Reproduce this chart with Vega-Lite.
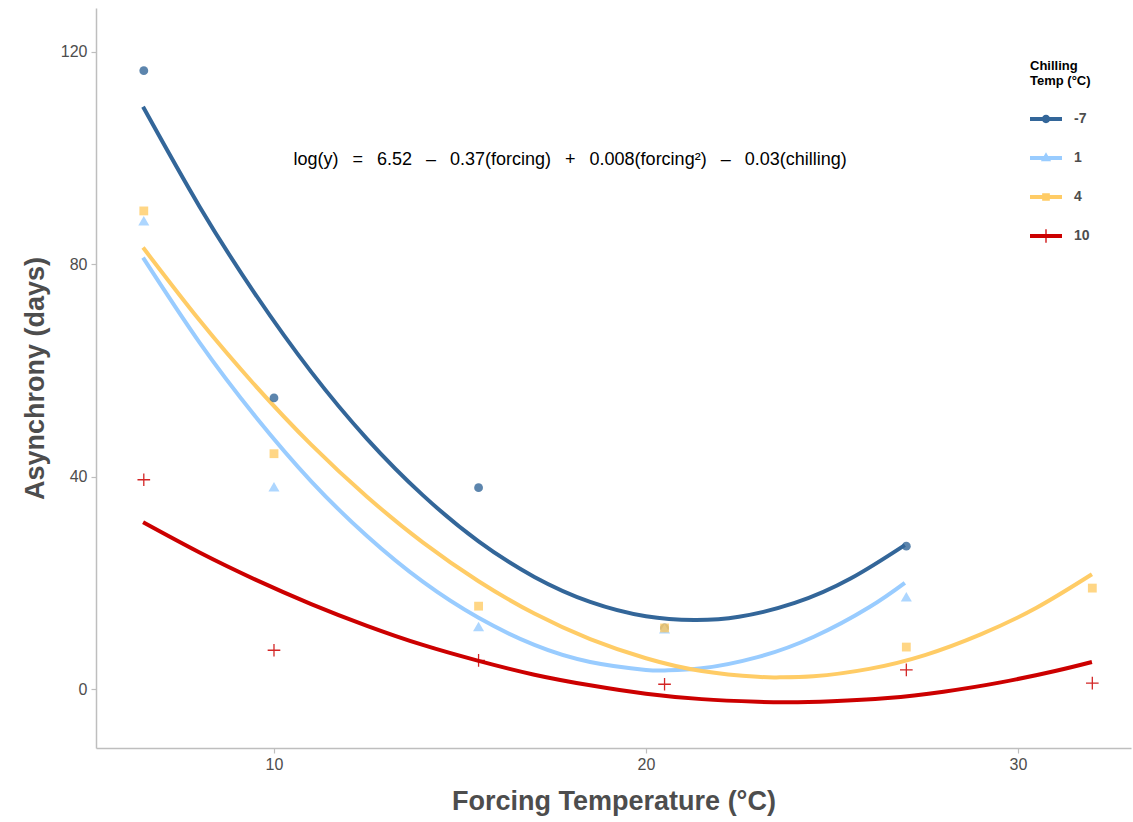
{
  "$schema": "https://vega.github.io/schema/vega-lite/v6.json",
  "width": 1035,
  "height": 740,
  "autosize": {"type": "none"},
  "padding": {"left": 96, "top": 8, "right": 2, "bottom": 74},
  "background": "white",
  "config": {
    "view": {"stroke": null},
    "font": "Liberation Sans",
    "axis": {
      "grid": false,
      "domainColor": "#bebebe",
      "domainWidth": 1.5,
      "tickColor": "#bebebe",
      "tickWidth": 1.2,
      "tickSize": 5,
      "labelColor": "#4d4d4d",
      "labelFont": "Liberation Sans",
      "labelFontSize": 16,
      "titleFont": "Liberation Sans",
      "titleFontSize": 27,
      "titleFontWeight": "bold",
      "titleColor": "#4d4d4d"
    }
  },
  "datasets": {
    "obs": [
      {"chill": "-7", "forcing": 6.5, "asynchrony": 116.4},
      {"chill": "-7", "forcing": 10, "asynchrony": 54.8},
      {"chill": "-7", "forcing": 15.5, "asynchrony": 37.9},
      {"chill": "-7", "forcing": 20.5, "asynchrony": 11.5},
      {"chill": "-7", "forcing": 27, "asynchrony": 26.9},
      {"chill": "1", "forcing": 6.5, "asynchrony": 88.1},
      {"chill": "1", "forcing": 10, "asynchrony": 38.0},
      {"chill": "1", "forcing": 15.5, "asynchrony": 11.7},
      {"chill": "1", "forcing": 20.5, "asynchrony": 11.3},
      {"chill": "1", "forcing": 27, "asynchrony": 17.3},
      {"chill": "4", "forcing": 6.5, "asynchrony": 90.0},
      {"chill": "4", "forcing": 10, "asynchrony": 44.3},
      {"chill": "4", "forcing": 15.5, "asynchrony": 15.6},
      {"chill": "4", "forcing": 20.5, "asynchrony": 11.5},
      {"chill": "4", "forcing": 27, "asynchrony": 7.9},
      {"chill": "4", "forcing": 32, "asynchrony": 19.0},
      {"chill": "10", "forcing": 6.5, "asynchrony": 39.4},
      {"chill": "10", "forcing": 10, "asynchrony": 7.3},
      {"chill": "10", "forcing": 15.5, "asynchrony": 5.4},
      {"chill": "10", "forcing": 20.5, "asynchrony": 0.9},
      {"chill": "10", "forcing": 27, "asynchrony": 3.6},
      {"chill": "10", "forcing": 32, "asynchrony": 1.1}
    ],
    "fits": [
      {"chill": "-7", "forcing": 6.48, "asynchrony": 109.6},
      {"chill": "-7", "forcing": 8, "asynchrony": 90.8},
      {"chill": "-7", "forcing": 9.5, "asynchrony": 74.3},
      {"chill": "-7", "forcing": 11, "asynchrony": 59.7},
      {"chill": "-7", "forcing": 12.5, "asynchrony": 47.1},
      {"chill": "-7", "forcing": 14, "asynchrony": 36.5},
      {"chill": "-7", "forcing": 15.5, "asynchrony": 27.8},
      {"chill": "-7", "forcing": 17, "asynchrony": 21.1},
      {"chill": "-7", "forcing": 18.5, "asynchrony": 16.4},
      {"chill": "-7", "forcing": 20, "asynchrony": 13.7},
      {"chill": "-7", "forcing": 21.3, "asynchrony": 13.0},
      {"chill": "-7", "forcing": 22.5, "asynchrony": 13.6},
      {"chill": "-7", "forcing": 24, "asynchrony": 16.2},
      {"chill": "-7", "forcing": 25.5, "asynchrony": 20.8},
      {"chill": "-7", "forcing": 26.96, "asynchrony": 27.1},
      {"chill": "1", "forcing": 6.48, "asynchrony": 81.2},
      {"chill": "1", "forcing": 8, "asynchrony": 65.2},
      {"chill": "1", "forcing": 9.5, "asynchrony": 51.3},
      {"chill": "1", "forcing": 11, "asynchrony": 39.1},
      {"chill": "1", "forcing": 12.5, "asynchrony": 28.8},
      {"chill": "1", "forcing": 14, "asynchrony": 20.2},
      {"chill": "1", "forcing": 15.5, "asynchrony": 13.4},
      {"chill": "1", "forcing": 17, "asynchrony": 8.3},
      {"chill": "1", "forcing": 18.5, "asynchrony": 5.1},
      {"chill": "1", "forcing": 20, "asynchrony": 3.6},
      {"chill": "1", "forcing": 20.5, "asynchrony": 3.5},
      {"chill": "1", "forcing": 21.5, "asynchrony": 3.9},
      {"chill": "1", "forcing": 23, "asynchrony": 6.0},
      {"chill": "1", "forcing": 24.5, "asynchrony": 9.8},
      {"chill": "1", "forcing": 26, "asynchrony": 15.4},
      {"chill": "1", "forcing": 26.96, "asynchrony": 20.0},
      {"chill": "4", "forcing": 6.48, "asynchrony": 83.1},
      {"chill": "4", "forcing": 8, "asynchrony": 69.4},
      {"chill": "4", "forcing": 9.5, "asynchrony": 57.1},
      {"chill": "4", "forcing": 11, "asynchrony": 46.0},
      {"chill": "4", "forcing": 12.5, "asynchrony": 36.2},
      {"chill": "4", "forcing": 14, "asynchrony": 27.6},
      {"chill": "4", "forcing": 15.5, "asynchrony": 20.3},
      {"chill": "4", "forcing": 17, "asynchrony": 14.2},
      {"chill": "4", "forcing": 18.5, "asynchrony": 9.4},
      {"chill": "4", "forcing": 20, "asynchrony": 5.8},
      {"chill": "4", "forcing": 21.5, "asynchrony": 3.4},
      {"chill": "4", "forcing": 23, "asynchrony": 2.3},
      {"chill": "4", "forcing": 23.6, "asynchrony": 2.2},
      {"chill": "4", "forcing": 24.5, "asynchrony": 2.4},
      {"chill": "4", "forcing": 26, "asynchrony": 3.8},
      {"chill": "4", "forcing": 27.5, "asynchrony": 6.4},
      {"chill": "4", "forcing": 29, "asynchrony": 10.3},
      {"chill": "4", "forcing": 30.5, "asynchrony": 15.3},
      {"chill": "4", "forcing": 31.99, "asynchrony": 21.6},
      {"chill": "10", "forcing": 6.48, "asynchrony": 31.4},
      {"chill": "10", "forcing": 8, "asynchrony": 25.7},
      {"chill": "10", "forcing": 9.5, "asynchrony": 20.6},
      {"chill": "10", "forcing": 11, "asynchrony": 16.0},
      {"chill": "10", "forcing": 12.5, "asynchrony": 11.9},
      {"chill": "10", "forcing": 14, "asynchrony": 8.3},
      {"chill": "10", "forcing": 15.5, "asynchrony": 5.3},
      {"chill": "10", "forcing": 17, "asynchrony": 2.7},
      {"chill": "10", "forcing": 18.5, "asynchrony": 0.7},
      {"chill": "10", "forcing": 20, "asynchrony": -0.9},
      {"chill": "10", "forcing": 21.5, "asynchrony": -1.9},
      {"chill": "10", "forcing": 23, "asynchrony": -2.4},
      {"chill": "10", "forcing": 23.8, "asynchrony": -2.5},
      {"chill": "10", "forcing": 25, "asynchrony": -2.3},
      {"chill": "10", "forcing": 26.5, "asynchrony": -1.7},
      {"chill": "10", "forcing": 28, "asynchrony": -0.5},
      {"chill": "10", "forcing": 29.5, "asynchrony": 1.2},
      {"chill": "10", "forcing": 31, "asynchrony": 3.4},
      {"chill": "10", "forcing": 31.99, "asynchrony": 5.1}
    ],
    "equation": [
      {"label": "log(y) \u2002= \u20026.52 \u2002– \u20020.37(forcing) \u2002+ \u20020.008(forcing²) \u2002– \u20020.03(chilling)"}
    ]
  },
  "layer": [
    {
      "data": {"name": "fits"},
      "mark": {"type": "line", "strokeWidth": 4, "interpolate": "natural", "strokeCap": "butt"},
      "encoding": {
        "x": {
          "field": "forcing",
          "type": "quantitative",
          "scale": {"domain": [5.215, 33.04], "nice": false, "zero": false},
          "axis": {"values": [10, 20, 30], "title": "Forcing Temperature (°C)", "titlePadding": 16, "labelPadding": 3}
        },
        "y": {
          "field": "asynchrony",
          "type": "quantitative",
          "scale": {"domain": [-11.1, 128.2], "nice": false, "zero": false},
          "axis": {"values": [0, 40, 80, 120], "title": "Asynchrony (days)", "titlePadding": 11, "labelPadding": 4}
        },
        "color": {
          "field": "chill",
          "type": "nominal",
          "scale": {"domain": ["-7", "1", "4", "10"], "range": ["#336699", "#99ccff", "#ffcc66", "#cc0000"]},
          "legend": {
            "title": ["Chilling", "Temp (°C)"],
            "orient": "none",
            "legendX": 934,
            "legendY": 52,
            "titleFont": "Liberation Sans",
            "titleFontSize": 13,
            "titleFontWeight": "bold",
            "titleColor": "#000000",
            "titlePadding": 15,
            "labelFont": "Liberation Sans",
            "labelFontSize": 14,
            "labelFontWeight": "bold",
            "labelColor": "#4d4d4d",
            "labelOffset": 12,
            "symbolSize": 1024,
            "symbolStrokeWidth": 0,
            "rowPadding": 16,
            "encode": {
              "symbols": {
                "update": {
                  "shape": {"signal": "datum.value === '-7' ? 'M-1,-0.125L1,-0.125L1,0.125L-1,0.125Z M0.26,0A0.26,0.26,0,1,1,-0.26,0A0.26,0.26,0,1,1,0.26,0Z' : datum.value === '1' ? 'M-1,-0.125L1,-0.125L1,0.125L-1,0.125Z M0,-0.36L0.32,0.2L-0.32,0.2Z' : datum.value === '4' ? 'M-1,-0.125L1,-0.125L1,0.125L-1,0.125Z M-0.24,-0.24L0.24,-0.24L0.24,0.24L-0.24,0.24Z' : 'M-1,-0.125L1,-0.125L1,0.125L-1,0.125Z M-0.04,-0.42L0.04,-0.42L0.04,0.42L-0.04,0.42Z'"},
                  "fill": {"scale": "color", "field": "value"},
                  "fillOpacity": {"value": 1},
                  "strokeWidth": {"value": 0}
                }
              }
            }
          }
        },
        "detail": {"field": "chill"}
      }
    },
    {
      "data": {"name": "obs"},
      "transform": [{"filter": "datum.chill !== '10'"}],
      "mark": {"type": "point", "filled": true, "size": 78, "opacity": 0.8},
      "encoding": {
        "x": {"field": "forcing", "type": "quantitative"},
        "y": {"field": "asynchrony", "type": "quantitative"},
        "color": {"field": "chill", "type": "nominal"},
        "shape": {
          "field": "chill",
          "type": "nominal",
          "scale": {"domain": ["-7", "1", "4"], "range": ["circle", "M0,-1.15L1.25,1L-1.25,1Z", "square"]},
          "legend": null
        }
      }
    },
    {
      "data": {"name": "obs"},
      "transform": [{"filter": "datum.chill === '10'"}],
      "mark": {"type": "point", "filled": false, "shape": "M-1,0L1,0M0,-1L0,1", "size": 160, "strokeWidth": 1.3, "opacity": 0.85},
      "encoding": {
        "x": {"field": "forcing", "type": "quantitative"},
        "y": {"field": "asynchrony", "type": "quantitative"},
        "color": {"field": "chill", "type": "nominal"}
      }
    },
    {
      "data": {"name": "equation"},
      "mark": {"type": "text", "font": "Liberation Sans", "fontSize": 18, "color": "#000000", "align": "center", "baseline": "middle"},
      "encoding": {
        "x": {"datum": 17.96},
        "y": {"datum": 99.6},
        "text": {"field": "label"}
      }
    }
  ]
}
